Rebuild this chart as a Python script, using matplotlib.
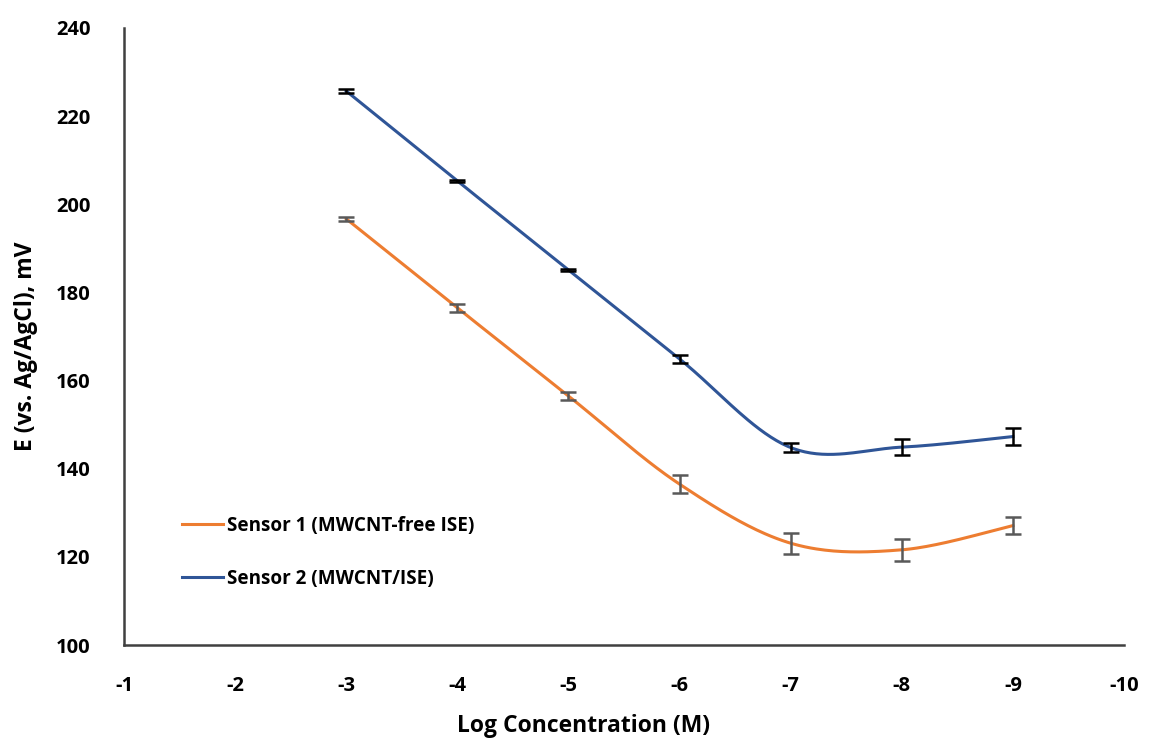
import numpy as np
import matplotlib.pyplot as plt

plt.rcParams['font.family'] = ['Open Sans', 'DejaVu Sans']
plt.rcParams['font.weight'] = 'bold'
plt.rcParams['axes.unicode_minus'] = False

# Data
log_conc = [-3, -4, -5, -6, -7, -8, -9]
sensor1 = [196.7, 176.5, 156.5, 136.5, 123.1, 121.6, 127.1]
sensor1_err = [0.4, 0.9, 0.9, 2.0, 2.4, 2.5, 1.9]
sensor2 = [225.7, 205.3, 185.1, 164.9, 144.8, 144.9, 147.3]
sensor2_err = [0.4, 0.3, 0.3, 0.8, 1.0, 1.9, 2.0]
labels = ['Sensor 1 (MWCNT-free ISE)', 'Sensor 2 (MWCNT/ISE)']


# Excel-style smoothed line (Catmull-Rom through the points, drawn as Bezier)
def smooth(xs, ys, n=40):
    p = np.column_stack([xs, ys]).astype(float)
    pts = np.vstack([p[0], p, p[-1]])
    out = []
    for i in range(1, len(pts) - 2):
        p0, p1, p2, p3 = pts[i - 1], pts[i], pts[i + 1], pts[i + 2]
        c1 = p1 + (p2 - p0) / 6
        c2 = p2 - (p3 - p1) / 6
        t = np.linspace(0, 1, n)[:, None]
        seg = ((1 - t) ** 3 * p1 + 3 * (1 - t) ** 2 * t * c1
               + 3 * (1 - t) * t ** 2 * c2 + t ** 3 * p2)
        out.append(seg if i == 1 else seg[1:])
    out = np.vstack(out)
    return out[:, 0], out[:, 1]


fig = plt.figure(figsize=(11.49, 7.42), dpi=100)
ax = fig.add_axes([0.1079, 0.1307, 0.8704, 0.8316])

sx, sy = smooth(log_conc, sensor1)
l1, = ax.plot(sx, sy, color='#ED7D31', lw=2.2)
ax.errorbar(log_conc, sensor1, yerr=sensor1_err, fmt='none', ecolor='#595959',
            elinewidth=1.8, capsize=6, capthick=1.8)

sx, sy = smooth(log_conc, sensor2)
l2, = ax.plot(sx, sy, color='#2F5597', lw=2.2)
ax.errorbar(log_conc, sensor2, yerr=sensor2_err, fmt='none', ecolor='black',
            elinewidth=1.8, capsize=6, capthick=1.8)

ax.set_xlim(-1, -10)
ax.set_ylim(100, 240)
ax.set_xticks(np.arange(-1, -11, -1))
ax.set_yticks(np.arange(100, 241, 20))
ax.tick_params(length=0, labelsize=14.5)
ax.tick_params(axis='x', pad=22)
ax.tick_params(axis='y', pad=24)
for s in ['top', 'right']:
    ax.spines[s].set_visible(False)
for s in ['left', 'bottom']:
    ax.spines[s].set_color('#404040')
    ax.spines[s].set_linewidth(1.8)

ax.set_xlabel('Log Concentration (M)', fontsize=16.5, fontweight='bold')
ax.xaxis.set_label_coords(0.459, -0.112)
ax.set_ylabel('E (vs. Ag/AgCl), mV', fontsize=16.5, fontweight='bold')
ax.yaxis.set_label_coords(-0.086, 0.485)

ax.legend([l1, l2], labels, loc='upper left', bbox_to_anchor=(0.05, 0.222),
          frameon=False, fontsize=13.6, handlelength=2.2, labelspacing=1.75,
          handletextpad=0.2, borderaxespad=0)

fig.savefig('out.png', dpi=100)
